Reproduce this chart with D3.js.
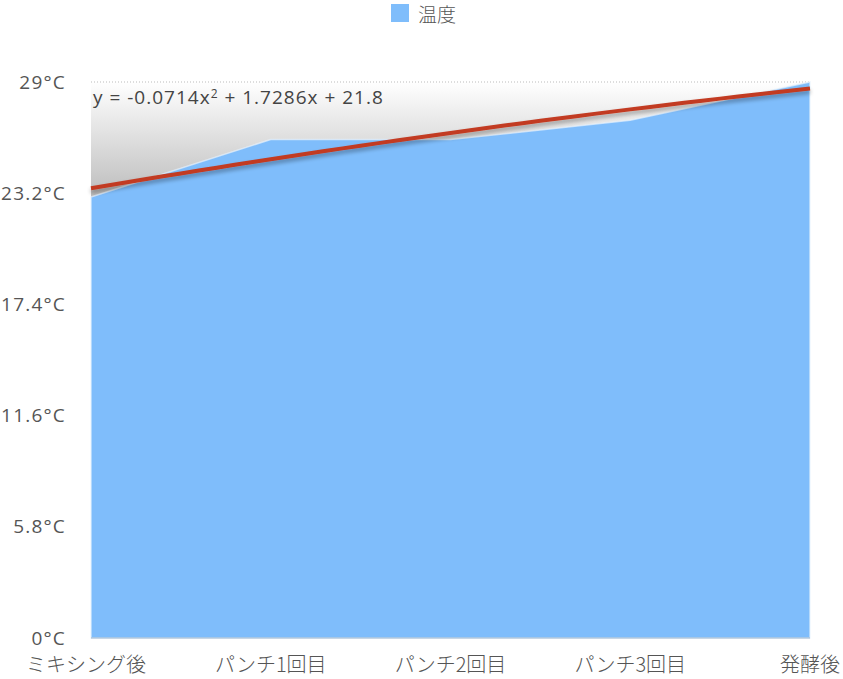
<!DOCTYPE html>
<html>
<head>
<meta charset="utf-8">
<script src="https://cdn.jsdelivr.net/npm/d3@7"></script>
<style>
  html, body { margin: 0; padding: 0; background: #fff; }
  text { font-family: "Open Sans", "Noto Sans CJK JP", sans-serif; }
  text.jp { font-family: "Noto Sans CJK JP", sans-serif; font-weight: 300; }
</style>
</head>
<body>
<svg id="container" width="843" height="679"></svg>
<script>
(function (d3) {
  'use strict';

  // values
  const categories = ['ミキシング後', 'パンチ1回目', 'パンチ2回目', 'パンチ3回目', '発酵後'];
  const temps = [23, 26, 26, 27, 29];
  const yTicks = [0, 5.8, 11.6, 17.4, 23.2, 29];
  const seriesName = '温度';
  const fitCoef = [-0.0714, 1.7286, 21.8]; // a x^2 + b x + c, x = 1..n

  const BLUE = '#7fbdfb';
  const RED = '#c23b22';
  const TEXT = '#555';

  const svg = d3.select('#container');
  const width = +svg.attr('width');
  const height = +svg.attr('height');
  const margin = { top: 82, right: 33, bottom: 41, left: 91 };
  const w = width - margin.left - margin.right;
  const h = height - margin.top - margin.bottom;

  const x = d3.scalePoint().domain(categories).range([0, w]);
  const y = d3.scaleLinear().domain([0, 29]).range([h, 0]);

  const defs = svg.append('defs');
  const grad = defs.append('linearGradient')
    .attr('id', 'bg').attr('x1', 0).attr('x2', 0)
    .attr('gradientUnits', 'userSpaceOnUse')
    .attr('y1', y(29)).attr('y2', y(23));
  grad.append('stop').attr('offset', 0).attr('stop-color', '#ffffff');
  grad.append('stop').attr('offset', 1).attr('stop-color', '#bdbdbd');

  const shadow = defs.append('filter').attr('id', 'shadow')
    .attr('x', '-5%').attr('y', '-50%').attr('width', '110%').attr('height', '200%');
  shadow.append('feGaussianBlur').attr('in', 'SourceAlpha').attr('stdDeviation', 2);
  shadow.append('feOffset').attr('dy', 3).attr('result', 'b');
  shadow.append('feComponentTransfer').append('feFuncA').attr('type', 'linear').attr('slope', 0.35);
  const merge = shadow.append('feMerge');
  merge.append('feMergeNode');
  merge.append('feMergeNode').attr('in', 'SourceGraphic');

  const g = svg.append('g').attr('transform', `translate(${margin.left},${margin.top})`);

  // plot background
  g.append('rect').attr('x', 0).attr('y', 0).attr('width', w).attr('height', h)
    .attr('fill', 'url(#bg)');

  // top dotted grid line
  g.append('line')
    .attr('x1', 0).attr('x2', w).attr('y1', y(29)).attr('y2', y(29))
    .attr('stroke', '#bbb').attr('stroke-dasharray', '1,2');

  // area
  const area = d3.area()
    .x((d, i) => x(categories[i]))
    .y0(y(0))
    .y1(d => y(d));
  g.append('path').datum(temps)
    .attr('d', area)
    .attr('fill', BLUE)
    .attr('stroke', '#e8f2fc').attr('stroke-width', 1.5).attr('stroke-opacity', 0.7);
  g.append('line')
    .attr('x1', 0).attr('x2', w).attr('y1', y(0)).attr('y2', y(0))
    .attr('stroke', '#9bb4cc').attr('stroke-width', 1);

  // polynomial trend line
  const fitPts = d3.range(0, categories.length - 1 + 0.001, 0.1).map(t => {
    const xv = t + 1;
    return [t, fitCoef[0] * xv * xv + fitCoef[1] * xv + fitCoef[2]];
  });
  const stepX = d3.scaleLinear().domain([0, categories.length - 1]).range([0, w]);
  g.append('path').datum(fitPts)
    .attr('d', d3.line().x(d => stepX(d[0])).y(d => y(d[1])))
    .attr('fill', 'none')
    .attr('stroke', RED).attr('stroke-width', 4)
    .attr('filter', 'url(#shadow)');

  const eq = g.append('text')
    .attr('x', 2).attr('y', y(29) + 22)
    .attr('font-size', 19).attr('letter-spacing', 1).attr('fill', '#444');
  eq.append('tspan').text(`y = ${fitCoef[0]}x`);
  eq.append('tspan').attr('font-size', 12).attr('dy', -6).text('2');
  eq.append('tspan').attr('dy', 6).text(` + ${fitCoef[1]}x + ${fitCoef[2]}`);

  // y axis labels
  g.selectAll('.ytick').data(yTicks).enter().append('text')
    .attr('class', 'ytick')
    .attr('x', -25).attr('y', d => y(d))
    .attr('dy', '0.35em')
    .attr('text-anchor', 'end')
    .attr('font-size', 19).attr('letter-spacing', 1.2).attr('fill', TEXT)
    .text(d => d3.format('~g')(d) + '°C');

  // x axis labels
  g.selectAll('.xtick').data(categories).enter().append('text')
    .attr('class', 'xtick jp')
    .attr('x', (d, i) => x(d) + (i === 0 ? -5 : 0))
    .attr('y', h + 34)
    .attr('text-anchor', 'middle')
    .attr('font-size', 20).attr('fill', TEXT)
    .text(d => d);

  // legend
  const legend = svg.append('g').attr('transform', 'translate(391,4)');
  legend.append('rect').attr('width', 18).attr('height', 18).attr('fill', BLUE);
  legend.append('text').attr('class', 'jp').attr('x', 27).attr('y', 11).attr('dy', '0.35em')
    .attr('font-size', 19).attr('fill', TEXT).text(seriesName);
}(d3));
</script>
</body>
</html>
